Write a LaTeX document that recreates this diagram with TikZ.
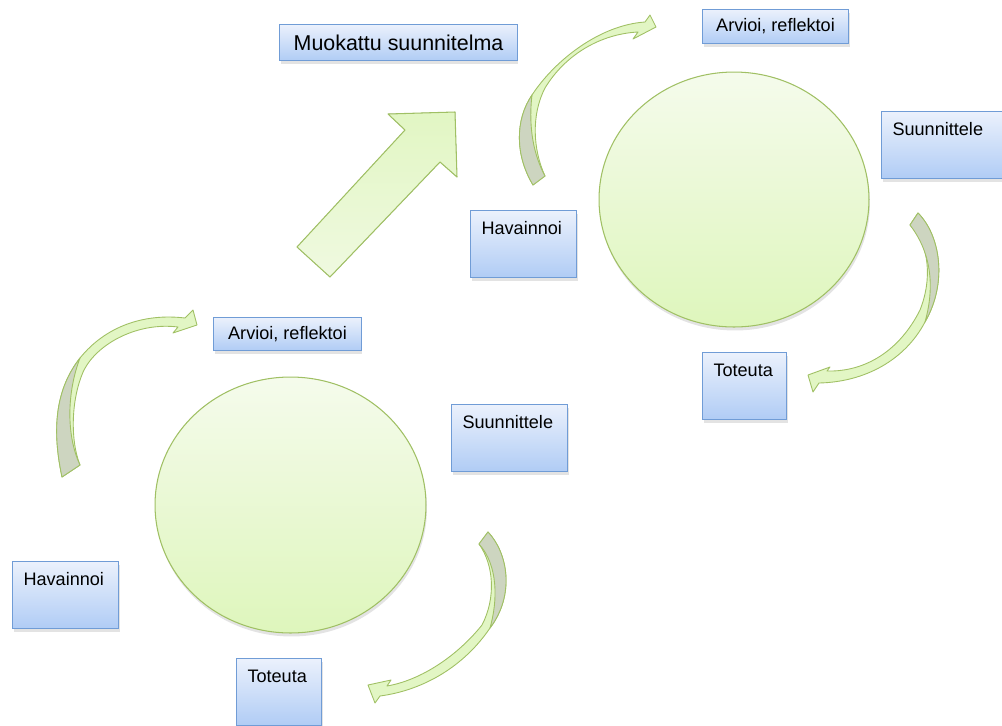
\documentclass[tikz,border=0pt]{standalone}
\usepackage{fontspec}
\setmainfont{Liberation Sans}
\usetikzlibrary{shapes.geometric}
\usetikzlibrary{shadows}
\definecolor{boxtop}{RGB}{235,241,252}
\definecolor{boxbottom}{RGB}{176,204,245}
\definecolor{boxline}{RGB}{112,156,214}
\definecolor{circtop}{RGB}{245,251,236}
\definecolor{circbottom}{RGB}{222,246,188}
\definecolor{greenline}{RGB}{160,192,100}
\definecolor{bandfill}{RGB}{226,246,196}
\definecolor{bandback}{RGB}{205,213,192}
\tikzset {
  % soft shadow under boxes and circles
  shade/.style={drop shadow={shadow xshift=0.02cm, shadow yshift=-0.07cm, opacity=0.22}},
  % text boxes
  box/.style={draw=boxline, line width=0.6pt, top color=boxtop, bottom color=boxbottom,
    shade, font=\fontsize{10.3}{12}\selectfont, anchor=north west},
  % boxes with the word at the top
  tallbox/.style={box, inner xsep=0.22cm, inner ysep=0pt, text height=0.48cm,
    text depth=0.86cm, align=left},
  % the two cycles
  loopcirc/.style={ellipse, draw=greenline, line width=0.6pt, top color=circtop,
    bottom color=circbottom, shade, inner sep=0pt},
  % curved arrows: front and rear face
  band/.style={draw=greenline, line width=0.5pt, fill=bandfill, line join=round},
  bandrear/.style={draw=greenline, line width=0.5pt, fill=bandback, line join=round},
  bigarrow/.style={draw=greenline, line width=0.6pt, bottom color=circtop!70!bandfill,
    top color=bandfill!90!circbottom, line join=round},
}
\begin{document}
\begin{tikzpicture}[x=0.02cm, y=-0.02cm]
  \path[use as bounding box, clip] (0,0) rectangle (1002,725);

  \node[loopcirc, minimum width=5.42cm, minimum height=5.12cm] (circL) at (290.5,505) {};
  \node[loopcirc, minimum width=5.40cm, minimum height=5.10cm] (circR) at (734,199.5) {};

  % the step up to the next round
  \filldraw[bigarrow] (297,247) -- (405,130) -- (388,114) -- (455,112) -- (457,177)
    -- (440,162) -- (330,277) -- cycle;

  % left cycle
  \filldraw[band] (62,477) .. controls (52,430) and (55,390) .. (80,358)
    .. controls (105,327) and (143,313) .. (185,318) -- (193,310) -- (197,325)
    -- (173,333) -- (178,327) .. controls (138,322) and (98,343) .. (84,370)
    .. controls (71,398) and (70,440) .. (80,465) -- cycle;
  \filldraw[bandrear] (62,477) .. controls (52,430) and (55,390) .. (80,358)
    .. controls (67,392) and (66,435) .. (80,465) -- cycle;
  \filldraw[band] (488,532) .. controls (508,553) and (515,595) .. (490,628)
    .. controls (465,665) and (425,690) .. (380,696) -- (375,703) -- (368,685)
    -- (391,680) -- (387,686) .. controls (422,680) and (458,655) .. (482,625)
    .. controls (496,598) and (494,565) .. (479,544) -- cycle;
  \filldraw[bandrear] (488,532) .. controls (508,553) and (515,595) .. (490,628)
    .. controls (498,600) and (498,565) .. (479,544) -- cycle;

  % right cycle
  \filldraw[band] (533,185) .. controls (515,155) and (515,120) .. (532,95)
    .. controls (555,60) and (600,25) .. (645,22) -- (650,15) -- (656,27)
    -- (633,39) -- (638,32) .. controls (600,34) and (565,55) .. (545,88)
    .. controls (531,115) and (533,150) .. (545,176) -- cycle;
  \filldraw[bandrear] (533,185) .. controls (515,155) and (515,120) .. (532,95)
    .. controls (529,120) and (531,150) .. (545,176) -- cycle;
  \filldraw[band] (918,213) .. controls (940,235) and (948,282) .. (925,322)
    .. controls (905,360) and (865,382) .. (819,383) -- (813,392) -- (808,375)
    -- (830,367) -- (827,371) .. controls (866,372) and (900,350) .. (920,310)
    .. controls (932,280) and (930,245) .. (910,225) -- cycle;
  \filldraw[bandrear] (918,213) .. controls (940,235) and (948,282) .. (925,322)
    .. controls (934,290) and (933,255) .. (910,225) -- cycle;

  \node[box, minimum width=4.76cm, minimum height=0.72cm,
    font=\fontsize{12.2}{14}\selectfont] (muokattu) at (279,24) {Muokattu suunnitelma};
  \node[box, minimum width=2.92cm, minimum height=0.68cm] (arvioiR) at (702,9) {Arvioi, reflektoi};
  \node[tallbox, text width=2.16cm] (suunR) at (881,111) {Suunnittele};
  \node[tallbox, text width=1.68cm] (havR) at (470,210) {Havainnoi};
  \node[tallbox, text width=1.24cm] (totR) at (702,352) {Toteuta};

  \node[box, minimum width=2.96cm, minimum height=0.66cm] (arvioiL) at (213,317) {Arvioi, reflektoi};
  \node[tallbox, text width=1.88cm] (suunL) at (451,404) {Suunnittele};
  \node[tallbox, text width=1.68cm] (havL) at (12,561) {Havainnoi};
  \node[tallbox, text width=1.26cm] (totL) at (236,658) {Toteuta};
\end{tikzpicture}
\end{document}
